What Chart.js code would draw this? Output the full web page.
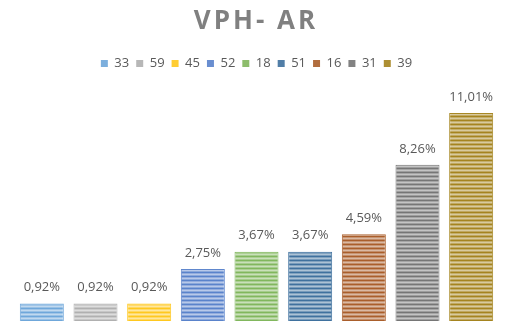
<!DOCTYPE html>
<html>
<head>
<meta charset="utf-8">
<script src="https://cdn.jsdelivr.net/npm/chart.js@4"></script>
<style>
  html, body { margin: 0; padding: 0; background: #fff; }
  #wrap { width: 509px; height: 333px; }
</style>
</head>
<body>
<div id="wrap"><canvas id="chart"></canvas></div>
<script>
const CHART_TITLE = 'VPH- AR';
const SERIES_NAMES = ['33', '59', '45', '52', '18', '51', '16', '31', '39'];
const SERIES_VALUES = [0.92, 0.92, 0.92, 2.75, 3.67, 3.67, 4.59, 8.26, 11.01];
const SERIES_COLORS = ['#5B9BD5', '#A5A5A5', '#FFC000', '#4472C4', '#70AD47',
                       '#255E91', '#9E480E', '#636363', '#997300'];

function hexToRgb(hex) {
  const n = parseInt(hex.slice(1), 16);
  return [(n >> 16) & 255, (n >> 8) & 255, n & 255];
}

function tint(hex, amount) {
  const [r, g, b] = hexToRgb(hex);
  const mix = (c) => Math.round(c + (255 - c) * amount);
  return `rgb(${mix(r)}, ${mix(g)}, ${mix(b)})`;
}

// narrow horizontal stripes, 4px repeat
function stripePattern(hex) {
  const tile = document.createElement('canvas');
  tile.width = 4;
  tile.height = 4;
  const t = tile.getContext('2d');
  const rows = [0.12, 0.42, 0.62, 0.38];
  rows.forEach((a, i) => {
    t.fillStyle = tint(hex, a);
    t.fillRect(0, i, 4, 1);
  });
  return document.getElementById('chart').getContext('2d').createPattern(tile, 'repeat');
}

// heading drawn by hand so it can be letter-spaced; room is kept by layout.padding.top
const spacedTitle = {
  id: 'spacedTitle',
  afterDraw(chart) {
    const ctx = chart.ctx;
    ctx.save();
    ctx.letterSpacing = '3px';
    ctx.font = 'bold 26px "Open Sans"';
    ctx.fillStyle = '#808080';
    ctx.textAlign = 'center';
    ctx.textBaseline = 'middle';
    ctx.fillText(CHART_TITLE, chart.width / 2 + 1.5, 22);
    ctx.restore();
  },
};

const valueLabels = {
  id: 'valueLabels',
  afterDatasetsDraw(chart) {
    const ctx = chart.ctx;
    ctx.save();
    ctx.font = '13px "Open Sans"';
    ctx.fillStyle = '#595959';
    ctx.textAlign = 'center';
    ctx.textBaseline = 'middle';
    chart.data.datasets.forEach((ds, i) => {
      const bar = chart.getDatasetMeta(i).data[0];
      const txt = ds.data[0].toFixed(2).replace('.', ',') + '%';
      ctx.fillText(txt, bar.x, bar.y - 16);
    });
    ctx.restore();
  },
};

const datasets = SERIES_NAMES.map((name, i) => ({
  label: name,
  data: [SERIES_VALUES[i]],
  backgroundColor: stripePattern(SERIES_COLORS[i]),
  borderColor: tint(SERIES_COLORS[i], 0.15),
  borderWidth: 1,
  categoryPercentage: 1,
  barPercentage: 0.82,
}));

new Chart(document.getElementById('chart'), {
  type: 'bar',
  data: { labels: [''], datasets },
  plugins: [spacedTitle, valueLabels],
  options: {
    responsive: true,
    maintainAspectRatio: false,
    animation: false,
    layout: { padding: { left: 15, right: 11, top: 50, bottom: 12 } },
    plugins: {
      title: { display: false },
      legend: {
        position: 'top',
        labels: {
          color: '#595959',
          font: { family: 'Open Sans', size: 13 },
          boxWidth: 7,
          boxHeight: 7,
          padding: 7,
          generateLabels(chart) {
            return chart.data.datasets.map((ds, i) => ({
              text: ds.label,
              fillStyle: tint(SERIES_COLORS[i], 0.2),
              strokeStyle: SERIES_COLORS[i],
              lineWidth: 0,
              datasetIndex: i,
              fontColor: '#595959',
            }));
          },
        },
      },
      tooltip: { enabled: false },
    },
    scales: {
      x: { display: false },
      y: { display: false, min: 0, max: 12.75 },
    },
  },
});
</script>
</body>
</html>
